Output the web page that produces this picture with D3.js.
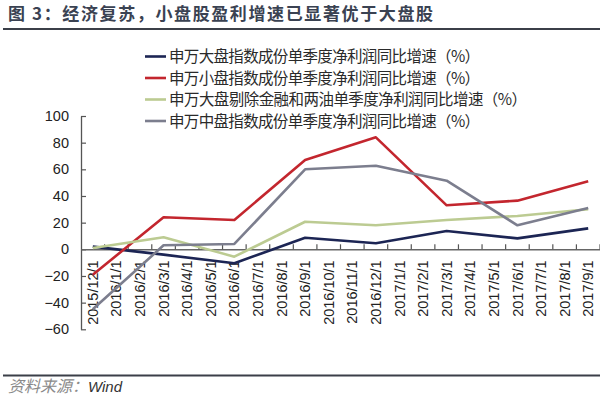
<!DOCTYPE html>
<html>
<head>
<meta charset="utf-8">
<script src="https://cdn.jsdelivr.net/npm/d3@7"></script>
<style>
  html, body { margin: 0; padding: 0; background: #fff; }
  svg { display: block; }
</style>
</head>
<body>
<svg id="chart" width="600" height="399"></svg>
<script>
const categories = ["2015/12/1","2016/1/1","2016/2/1","2016/3/1","2016/4/1","2016/5/1","2016/6/1","2016/7/1","2016/8/1","2016/9/1","2016/10/1","2016/11/1","2016/12/1","2017/1/1","2017/2/1","2017/3/1","2017/4/1","2017/5/1","2017/6/1","2017/7/1","2017/8/1","2017/9/1"];
const largeCap   = [2, null, null, -4, null, null, -10.5, null, null, 8.7, null, null, 4.5, null, null, 13.7, null, null, 8.2, null, null, 15.7];
const smallCap   = [-19, null, null, 24, null, null, 22, null, null, 67, null, null, 84, null, null, 33, null, null, 36.5, null, null, 51];
const largeExFin = [1, null, null, 9, null, null, -5.5, null, null, 20.7, null, null, 18, null, null, 22, null, null, 25, null, null, 30];
const midCap     = [-45, null, null, 3, null, null, 4, null, null, 60, null, null, 62.7, null, null, 51.5, null, null, 18, null, null, 31];
const seriesNames = [
  "申万大盘指数成份单季度净利润同比增速（%）",
  "申万小盘指数成份单季度净利润同比增速（%）",
  "申万大盘剔除金融和两油单季度净利润同比增速（%）",
  "申万中盘指数成份单季度净利润同比增速（%）"
];
const yTicks = [100, 80, 60, 40, 20, 0, -20, -40, -60];
const titleText = "图 3：经济复苏，小盘股盈利增速已显著优于大盘股";
const sourceLabel = "资料来源：";
const sourceName = "Wind";

const seriesValues = [largeCap, smallCap, largeExFin, midCap];
const colors = ["#1c2554", "#c3262e", "#bccb92", "#7c7e8e"];

const svg = d3.select("#chart");
const cjk = "'Noto Sans CJK SC', 'Noto Sans', sans-serif";
const latin = "'Liberation Sans', Arial, sans-serif";

// Title
svg.append("text")
  .attr("x", 8).attr("y", 19.5)
  .attr("font-family", cjk).attr("font-weight", "bold")
  .attr("font-size", 17).attr("fill", "#3a4252")
  .attr("textLength", 425).attr("lengthAdjust", "spacing")
  .text(titleText);
svg.append("line").attr("x1", 3).attr("x2", 600).attr("y1", 29).attr("y2", 29)
  .attr("stroke", "#3b3f48").attr("stroke-width", 2);

// Scales
const x = d3.scaleBand().domain(categories).range([81, 600]).paddingInner(0).paddingOuter(0);
const y = d3.scaleLinear().domain([-60, 100]).range([329.3, 116]);

// Y axis
const yAxis = d3.axisLeft(y).tickValues(yTicks).tickSize(-5).tickPadding(12).tickSizeOuter(0);
const gy = svg.append("g").attr("transform", "translate(81,0)").call(yAxis);
gy.select(".domain").attr("stroke", "#555").attr("stroke-width", 1.3);
gy.selectAll(".tick line").attr("stroke", "#555").attr("stroke-width", 1.2);
gy.selectAll(".tick text").attr("font-family", latin).attr("font-size", 14.5).attr("fill", "#222");

// X axis at zero
const xAxis = d3.axisBottom(x).tickSize(0).tickSizeOuter(0);
const gx = svg.append("g").attr("transform", `translate(0,${y(0)})`).call(xAxis);
gx.select(".domain").attr("stroke", "#666").attr("stroke-width", 1.6);
gx.selectAll(".tick text")
  .attr("font-family", latin).attr("font-size", 14.5).attr("fill", "#222")
  .attr("transform", "rotate(-90)")
  .attr("text-anchor", "end")
  .attr("x", -11).attr("y", 0).attr("dy", "0.35em");
// tick marks at band boundaries (pointing up)
const boundaries = categories.slice(1).map(c => x(c));
boundaries.push(x.range()[1]);
svg.append("g").selectAll("line").data(boundaries).join("line")
  .attr("x1", d => d).attr("x2", d => d)
  .attr("y1", y(0)).attr("y2", y(0) - 5)
  .attr("stroke", "#555").attr("stroke-width", 1.2);

// Lines
const line = d3.line()
  .x(d => x(d.c) + x.bandwidth() / 2)
  .y(d => y(d.v));
seriesValues.forEach((vals, i) => {
  const pts = categories.map((c, j) => ({ c, v: vals[j] })).filter(d => d.v !== null);
  svg.append("path").datum(pts)
    .attr("d", line)
    .attr("fill", "none")
    .attr("stroke", colors[i])
    .attr("stroke-width", 2.6)
    .attr("stroke-linejoin", "round");
});

// Legend
const legendY = [56.5, 78, 99.5, 121];
const legendLen = [311, 311, 358, 311];
const leg = svg.append("g");
seriesNames.forEach((name, i) => {
  leg.append("line").attr("x1", 145).attr("x2", 166)
    .attr("y1", legendY[i]).attr("y2", legendY[i])
    .attr("stroke", colors[i]).attr("stroke-width", 2.6);
  leg.append("text").attr("x", 169).attr("y", legendY[i]).attr("dy", "0.36em")
    .attr("font-family", cjk).attr("font-size", 15.5).attr("fill", "#2a2a2a")
    .attr("textLength", legendLen[i]).attr("lengthAdjust", "spacing")
    .text(name);
});

// Bottom rule & source
svg.append("line").attr("x1", 3).attr("x2", 600).attr("y1", 375.5).attr("y2", 375.5)
  .attr("stroke", "#3b3f48").attr("stroke-width", 2);
const src = svg.append("text").attr("x", 8).attr("y", 392);
src.append("tspan").attr("font-family", cjk).attr("font-size", 16).attr("font-style", "italic").attr("fill", "#8a8a8a").text(sourceLabel);
src.append("tspan").attr("font-family", latin).attr("font-size", 15).attr("font-style", "italic").attr("fill", "#333").text(sourceName);
</script>
</body>
</html>
